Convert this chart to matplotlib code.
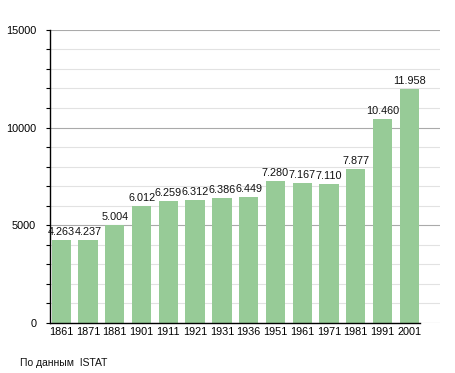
import matplotlib
matplotlib.use("Agg")
import matplotlib.pyplot as plt
from matplotlib.ticker import MultipleLocator

plt.rcParams['font.family'] = ['Liberation Sans', 'DejaVu Sans']

years = ["1861", "1871", "1881", "1901", "1911", "1921", "1931", "1936",
         "1951", "1961", "1971", "1981", "1991", "2001"]
population = [4263, 4237, 5004, 6012, 6259, 6312, 6386, 6449,
              7280, 7167, 7110, 7877, 10460, 11958]
value_labels = ["4.263", "4.237", "5.004", "6.012", "6.259", "6.312", "6.386", "6.449",
                "7.280", "7.167", "7.110", "7.877", "10.460", "11.958"]

fig = plt.figure(figsize=(4.55, 3.73), dpi=100)
ax = fig.add_axes([0.11, 0.134, 0.857, 0.786])

x = list(range(len(years)))
ax.bar(x, population, width=0.72, color="#97cb97", zorder=2)
for xi, v, s in zip(x, population, value_labels):
    ax.text(xi, v + 150, s, ha="center", va="bottom", fontsize=7.8, color="#111111", zorder=3)

ax.set_ylim(0, 15000)
ax.set_xlim(-0.42, 14.15)
ax.yaxis.set_major_locator(MultipleLocator(5000))
ax.yaxis.set_minor_locator(MultipleLocator(1000))
ax.grid(True, which="major", axis="y", color="#aaaaaa", lw=0.8, zorder=0)
ax.grid(True, which="minor", axis="y", color="#e2e2e2", lw=0.8, zorder=0)
ax.set_axisbelow(True)

ax.set_xticks(x)
ax.set_xticklabels(years)
ax.tick_params(axis="x", length=0, labelsize=7.8, pad=3)
ax.tick_params(axis="y", which="major", length=3, width=0.8, labelsize=7.8, pad=7)
ax.tick_params(axis="y", which="minor", length=3, width=0.8)

for side in ("top", "right"):
    ax.spines[side].set_visible(False)
ax.spines["left"].set_linewidth(1.0)
ax.spines["bottom"].set_linewidth(1.0)
ax.spines["bottom"].set_bounds(-0.42, 13.42)

fig.text(0.044, 0.02, "По данным  ISTAT", fontsize=7.5, color="#111111")

fig.savefig("out.png", dpi=100)
